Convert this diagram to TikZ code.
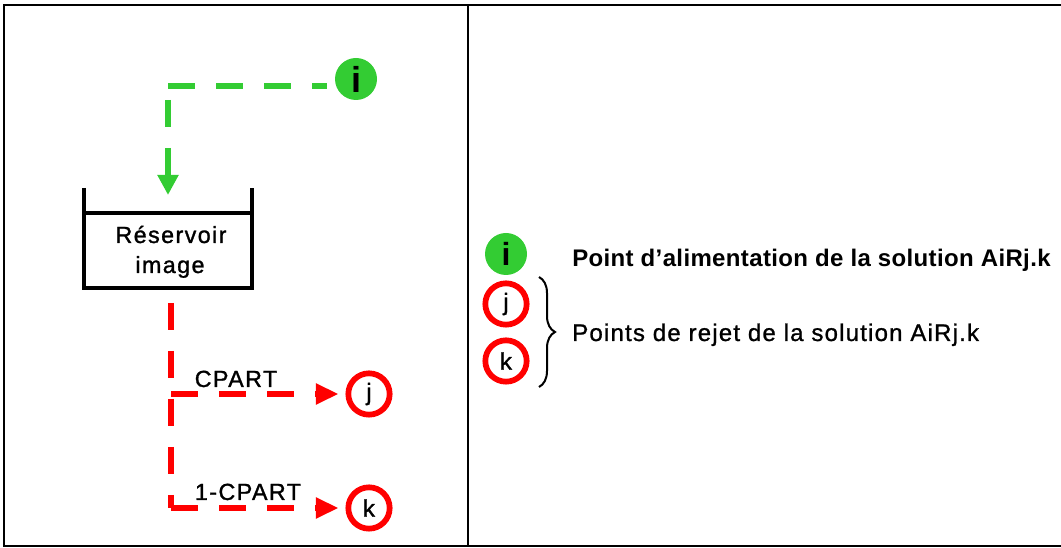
\documentclass[tikz,border=0pt]{standalone}
\usepackage{fontspec}
\setmainfont{Liberation Sans}
\newfontfamily\spfont[LetterSpace=6,FakeBold=1.2]{Liberation Sans}
\newfontfamily\circfont[FakeBold=1.2]{Liberation Sans}
\newfontfamily\legAfont[LetterSpace=1.5]{Liberation Sans}
\newfontfamily\legBfont[LetterSpace=5,FakeBold=1]{Liberation Sans}
\usetikzlibrary{arrows.meta,decorations.pathreplacing}
\definecolor{gr}{RGB}{51,204,51}
\definecolor{rd}{RGB}{255,0,0}
\begin{document}
\begin{tikzpicture}[x=0.75pt,y=-0.75pt,
  frame/.style={line width=1.5pt},
  wall/.style={line width=3pt},
  greenpt/.style={circle,fill=gr,minimum size=31.5pt,inner sep=0pt,font=\fontsize{27}{27}\selectfont\bfseries},
  redpt/.style={circle,draw=rd,fill=white,line width=4.3pt,minimum size=31pt,inner sep=0pt,font=\circfont\fontsize{18}{18}\selectfont},
  gflow/.style={draw=gr,line width=4.3pt,dash pattern=on 20.25pt off 15.75pt},
  rflow/.style={draw=rd,line width=4.3pt,dash pattern=on 20.25pt off 15.75pt},
  gtip/.style={-{Triangle[length=15pt,width=15pt]}},
  rtip/.style={-{Triangle[length=17pt,width=15pt]}},
  lbl/.style={font=\spfont\fontsize{17.5}{19}\selectfont,inner sep=0pt,anchor=base},
  legend/.style={anchor=base west,inner sep=0pt}]
\useasboundingbox (0,0) rectangle (1061,548);
% table frame
\draw[frame] (1061,5) -- (4,5) -- (4,546) -- (1061,546);
\draw[frame] (468,5) -- (468,546);
% tank
\coordinate (tl) at (84,188);
\coordinate (tr) at (252,188);
\draw[wall] (tl) -- (84,288) -- (252,288) -- (tr);
\draw[wall] (84,213) -- (252,213);
\node[lbl] (tank1) at (171,243) {Réservoir};
\node[lbl] (tank2) at (170,273) {image};
% green feed
\node[greenpt] (i) at (356,79) {i};
\coordinate (gc) at (168,86);
\coordinate (gv) at (168,100);
\coordinate (gt) at (168,195);
\draw[gflow] (gc) -- ([xshift=-6pt]i.west|-gc);
\draw[gflow,gtip] (gv) -- (gt);
% red outputs
\node[redpt] (j) at (369,394) {j};
\node[redpt] (k) at (369,508) {k};
\coordinate (rtop) at (171,303);
\coordinate (rj) at (171,394);
\coordinate (rk) at (171,508);
\draw[rflow] (rtop) -- (rk);
\draw[rflow,rtip] (rj) -- ([xshift=-5.25pt]j.west);
\draw[rflow,rtip] (rk) -- ([xshift=-5.25pt]k.west);
\node[lbl] (c1) at (236,387) {CPART};
\node[lbl] (c2) at (248,500) {1-CPART};
% legend
\node[greenpt,font=\fontsize{24}{24}\selectfont\bfseries] (li) at (506,254) {i};
\node[redpt] (lj) at (506,304) {j};
\node[redpt] (lk) at (506,361) {k};
\node[legend,font=\legAfont\fontsize{18}{20}\selectfont\bfseries] (t1) at (572,267) {Point d’alimentation de la solution AiRj.k};
\node[legend,font=\legBfont\fontsize{18}{20}\selectfont] (t2) at (572,341) {Points de rejet de la solution AiRj.k};
\draw[line width=1.5pt,decorate,decoration={brace,amplitude=12pt}] (539,277) -- (539,387);
\end{tikzpicture}
\end{document}
